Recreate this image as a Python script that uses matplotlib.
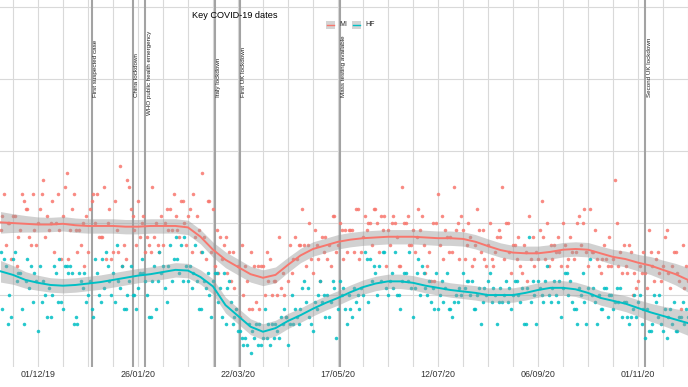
import matplotlib
matplotlib.use("Agg")
import matplotlib.pyplot as plt
import matplotlib.dates as mdates
import numpy as np
from matplotlib.patches import Rectangle
from matplotlib.lines import Line2D

plt.rcParams["font.family"] = ["Liberation Sans", "DejaVu Sans"]

# daily counts, first day 2019-11-10
START = "2019-11-10"
MI = [19, 21, 24, 17, 20, 20, 15, 21, 21, 14, 18, 19, 24, 23,
      22, 22, 18, 17, 24, 19, 17, 20, 22, 24, 26, 18, 21, 19,
      20, 23, 16, 20, 24, 19, 15, 21, 25, 27, 15, 19, 22, 24,
      19, 16, 19, 17, 20, 14, 21, 16, 22, 23, 24, 20, 24, 18,
      18, 18, 25, 15, 20, 22, 15, 16, 23, 19, 16, 28, 14, 17,
      15, 26, 25, 22, 21, 19, 17, 23, 18, 20, 21, 16, 18, 17,
      16, 25, 18, 20, 17, 16, 21, 17, 20, 22, 19, 22, 19, 24,
      21, 19, 18, 23, 23, 20, 17, 21, 22, 16, 24, 18, 21, 19,
      16, 27, 18, 15, 23, 23, 16, 22, 14, 19, 13, 18, 15, 17,
      18, 13, 16, 12, 16, 11, 8, 14, 7, 17, 10, 14, 12, 8,
      16, 8, 14, 9, 14, 8, 14, 14, 10, 16, 12, 15, 10, 12,
      12, 10, 18, 11, 13, 10, 7, 12, 17, 13, 15, 18, 15, 17,
      17, 22, 17, 14, 17, 20, 15, 13, 19, 17, 15, 12, 18, 16,
      18, 15, 17, 14, 21, 21, 16, 17, 20, 19, 15, 19, 16, 19,
      19, 19, 16, 22, 22, 15, 16, 18, 21, 19, 20, 20, 17, 22,
      22, 20, 16, 21, 19, 21, 14, 19, 17, 20, 21, 20, 18, 14,
      14, 25, 20, 20, 21, 17, 17, 19, 16, 18, 22, 19, 21, 17,
      13, 14, 16, 12, 20, 12, 20, 24, 17, 21, 15, 19, 18, 16,
      18, 16, 25, 19, 20, 15, 21, 19, 15, 17, 20, 18, 14, 15,
      17, 22, 19, 16, 19, 15, 14, 17, 20, 15, 14, 16, 18, 19,
      18, 25, 15, 20, 20, 16, 13, 17, 17, 15, 18, 14, 13, 17,
      16, 12, 21, 15, 18, 14, 16, 15, 19, 23, 18, 15, 20, 14,
      17, 15, 17, 16, 18, 16, 14, 20, 17, 14, 15, 18, 16, 15,
      16, 20, 21, 17, 20, 22, 16, 14, 22, 16, 16, 19, 15, 14,
      13, 15, 17, 15, 14, 18, 14, 15, 26, 20, 14, 16, 13, 17,
      14, 13, 17, 16, 10, 13, 11, 12, 14, 13, 16, 13, 11, 19,
      16, 14, 12, 15, 16, 13, 12, 14, 18, 19, 13, 11, 14, 16,
      16, 13, 12, 8, 17, 11, 14, 12]
HF = [16, 8, 15, 14, 6, 10, 7, 15, 16, 12, 13, 13, 8, 6,
      12, 15, 11, 14, 9, 13, 12, 5, 14, 9, 12, 10, 7, 11,
      7, 10, 14, 13, 9, 15, 9, 8, 14, 14, 13, 14, 13, 6,
      7, 6, 13, 12, 11, 13, 9, 10, 12, 8, 7, 15, 13, 10,
      9, 15, 11, 16, 14, 12, 10, 13, 9, 17, 12, 11, 14, 8,
      8, 10, 12, 14, 10, 10, 8, 11, 13, 15, 13, 12, 10, 7,
      7, 12, 14, 8, 12, 16, 13, 14, 11, 9, 14, 17, 12, 15,
      18, 15, 13, 17, 12, 18, 14, 12, 14, 11, 13, 17, 12, 8,
      8, 16, 12, 11, 13, 10, 7, 12, 13, 13, 9, 11, 7, 13,
      6, 11, 12, 9, 6, 7, 8, 5, 5, 4, 3, 4, 3, 6,
      2, 5, 4, 6, 3, 6, 3, 4, 8, 4, 6, 3, 6, 4,
      6, 5, 4, 7, 6, 8, 7, 3, 6, 10, 6, 8, 7, 6,
      8, 11, 12, 9, 11, 7, 6, 5, 9, 8, 10, 12, 9, 10,
      7, 10, 7, 9, 12, 11, 4, 8, 12, 10, 11, 8, 6, 10,
      8, 7, 11, 9, 10, 8, 11, 10, 16, 15, 9, 15, 12, 14,
      13, 10, 14, 12, 16, 16, 11, 10, 12, 13, 11, 16, 10, 10,
      8, 12, 13, 13, 12, 16, 11, 7, 11, 13, 15, 10, 14, 13,
      11, 10, 12, 9, 11, 8, 13, 8, 10, 12, 9, 11, 13, 8,
      8, 7, 9, 10, 9, 11, 10, 13, 11, 12, 12, 10, 12, 8,
      8, 10, 11, 6, 9, 11, 10, 12, 13, 9, 11, 10, 6, 9,
      11, 9, 10, 12, 9, 11, 8, 10, 12, 12, 10, 9, 11, 6,
      6, 11, 18, 9, 12, 10, 6, 12, 11, 10, 9, 12, 14, 10,
      9, 11, 12, 10, 9, 12, 7, 11, 13, 13, 10, 12, 9, 8,
      8, 6, 11, 10, 13, 9, 6, 11, 15, 10, 11, 9, 6, 10,
      8, 8, 11, 11, 7, 10, 10, 8, 9, 11, 9, 11, 7, 9,
      9, 7, 6, 7, 8, 10, 7, 9, 10, 6, 8, 4, 8, 5,
      5, 6, 10, 9, 7, 10, 6, 5, 8, 4, 7, 8, 6, 9,
      5, 5, 7, 7, 9, 6, 8, 7]

# smoothed trend read every 7 days from START, with half width of the band
MI_SMOOTH = [20.1, 20.0, 19.9, 19.8, 19.8, 19.9, 19.7, 19.6, 19.6, 19.6,
             19.5, 19.5, 19.6, 19.6, 19.6, 19.4, 18.1, 16.3, 14.9, 13.9,
             12.9, 12.4, 12.8, 14.2, 15.5, 16.4, 16.9, 17.4, 17.7, 17.9,
             18.0, 18.1, 18.1, 18.1, 18.0, 17.9, 17.9, 17.8, 17.4, 16.8,
             16.25, 15.9, 15.8, 15.8, 16.0, 16.3, 16.4, 16.3, 15.8, 15.3,
             15.0, 14.5, 14.1, 13.5, 12.9, 12.1]
HF_SMOOTH = [13.3, 12.8, 12.1, 11.7, 11.4, 11.3, 11.4, 11.6, 11.8, 12.1,
             12.4, 12.7, 12.9, 13.2, 13.5, 13.4, 12.5, 11.2, 8.6, 7.1,
             5.6, 4.9, 5.4, 6.4, 7.2, 8.1, 8.9, 9.6, 10.4, 11.1,
             11.6, 11.9, 11.9, 11.7, 11.3, 11.0, 10.7, 10.5, 10.3, 10.0,
             10.0, 10.0, 10.3, 10.7, 11.0, 11.0, 10.8, 10.3, 9.6, 9.2,
             8.8, 8.2, 7.6, 7.1, 6.6, 6.1]
BAND = [1.5, 1.3, 1.15, 1.05, 1.0, 1.0, 1.0, 1.0, 1.0, 1.0,
        1.0, 1.0, 1.0, 1.0, 1.0, 1.0, 1.0, 1.05, 1.1, 1.1,
        1.1, 1.1, 1.1, 1.05, 1.0, 1.0, 1.0, 1.0, 1.0, 1.0,
        1.0, 1.0, 1.0, 1.0, 1.0, 1.0, 1.0, 1.0, 1.0, 1.0,
        1.0, 1.0, 1.0, 1.0, 1.0, 1.0, 1.0, 1.0, 1.0, 1.05,
        1.1, 1.15, 1.25, 1.35, 1.5, 1.7]

EVENTS = ["First suspected case", "China lockdown", "WHO public health emergency",
          "Italy lockdown", "First UK lockdown", "Mass testing available",
          "Second UK lockdown"]
EVENT_DATES = ["2019-12-31", "2020-01-23", "2020-01-30", "2020-03-09",
               "2020-03-23", "2020-05-18", "2020-11-05"]
EVENT_LABEL_Y = [37.5, 37.5, 35.0, 37.5, 37.5, 37.5, 37.5]

TICK_DATES = ["2019-12-01", "2020-01-26", "2020-03-22", "2020-05-17",
              "2020-07-12", "2020-09-06", "2020-11-01"]
TICK_LABELS = ["01/12/19", "26/01/20", "22/03/20", "17/05/20",
               "12/07/20", "06/09/20", "01/11/20"]

RED = "#F8766D"
TEAL = "#00BFC4"

start = np.datetime64(START)
dates = start + np.arange(len(MI))
knots = start + np.arange(len(MI_SMOOTH)) * 7
band = np.array(BAND)

fig = plt.figure(figsize=(6.88, 3.87), dpi=100)
ax = fig.add_axes([0, 20 / 387, 1, 367 / 387])

base = mdates.date2num(start)
ax.set_xlim(base - 0.28, base + 385.0)
ax.set_ylim(0, 51)

minor = start + 7 + np.arange(0, 385, 14)
ax.set_xticks(mdates.date2num(minor), minor=True)
ax.set_xticks(mdates.date2num(np.array(TICK_DATES, dtype="datetime64[D]")))
ax.set_xticklabels(TICK_LABELS)
ax.set_yticks([10, 20, 30, 40, 50])
ax.tick_params(axis="x", which="both", length=0, pad=2.5, labelsize=6.4, labelcolor="#333333")
ax.tick_params(axis="y", length=0, labelleft=False)
ax.grid(axis="x", which="both", color="#d9d9d9", lw=0.8)
ax.grid(axis="y", which="major", color="#d9d9d9", lw=0.8)
ax.set_axisbelow(True)
for s in ax.spines.values():
    s.set_visible(False)

for name, d, yl in zip(EVENTS, EVENT_DATES, EVENT_LABEL_Y):
    x = mdates.date2num(np.datetime64(d))
    ax.axvline(x, color="#a3a3a3", lw=1.5, zorder=1.5)
    ax.annotate(name, xy=(x, yl), xytext=(3, 0), textcoords="offset points",
                rotation=90, ha="center", va="bottom", fontsize=4.5, color="#222222")

for vals, sm, col in [(MI, MI_SMOOTH, RED), (HF, HF_SMOOTH, TEAL)]:
    ax.scatter(dates, vals, s=6.5, color=col, alpha=0.85, linewidths=0, zorder=2)
    sm = np.array(sm)
    ax.fill_between(knots, sm - band, sm + band, color="#999999", alpha=0.45, lw=0, zorder=3)
    ax.plot(knots, sm, color=col, lw=1.4, zorder=4)

fig.text(192 / 688, 1 - 15 / 387, "Key COVID-19 dates", fontsize=6.6, ha="left", va="center")

# legend keys
for x0, col, lab in [(326, RED, "MI"), (352, TEAL, "HF")]:
    fig.add_artist(Rectangle((x0 / 688, 1 - 29 / 387), 9 / 688, 8 / 387,
                             transform=fig.transFigure, facecolor="#d4d4d4", edgecolor="none"))
    fig.add_artist(Line2D([(x0 + 1) / 688, (x0 + 8) / 688], [1 - 25 / 387] * 2,
                          transform=fig.transFigure, color=col, lw=1.0))
    fig.text((x0 + 13) / 688, 1 - 25 / 387, lab, fontsize=5, ha="left", va="center", color="#222222")

fig.savefig("out.png", dpi=100)
